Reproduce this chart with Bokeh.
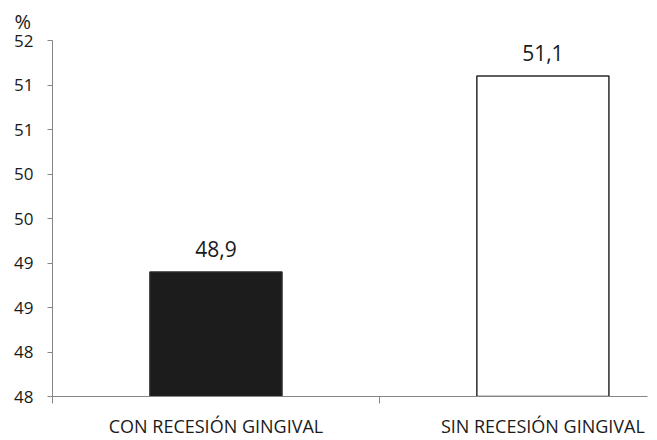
from bokeh.plotting import figure
from bokeh.models import ColumnDataSource, Range1d, FixedTicker, LabelSet
from bokeh.core.properties import value
from bokeh.embed import file_html
from bokeh.resources import INLINE

categories = ["CON RECESIÓN GINGIVAL", "SIN RECESIÓN GINGIVAL"]
values = [48.9, 51.1]
value_labels = ["48,9", "51,1"]
fills = ["#1c1c1c", "#ffffff"]
y_ticks = [47.5, 48.0, 48.5, 49.0, 49.5, 50.0, 50.5, 51.0, 51.5]
y_tick_labels = ["48", "48", "49", "49", "50", "50", "51", "51", "52"]
y_unit = "%"

FONT = "Open Sans"
TXT = "#1a1a1a"
AX = "#868686"

xs = list(range(len(categories)))
src = ColumnDataSource(dict(x=xs, top=values, lab=value_labels, fill=fills))

p = figure(width=657, height=440, output_backend="svg", toolbar_location=None,
           x_range=Range1d(-0.5, 1.32), y_range=Range1d(y_ticks[0], y_ticks[-1]),
           min_border_left=52, min_border_right=10, min_border_top=40, min_border_bottom=44)
p.outline_line_color = None
p.background_fill_color = "white"
p.border_fill_color = "white"
p.xgrid.visible = False
p.ygrid.visible = False

p.title.text = y_unit
p.title.align = "left"
p.title.offset = -38
p.title.standoff = 11
p.title.text_font = FONT
p.title.text_font_size = "20px"
p.title.text_font_style = "normal"
p.title.text_color = TXT

p.vbar(x="x", top="top", bottom=y_ticks[0], width=0.404, source=src,
       fill_color="fill", line_color="#2a2a2a", line_width=1.5)

p.add_layout(LabelSet(x="x", y="top", text="lab", source=src, text_align="center",
                      text_baseline="alphabetic", y_offset=15, text_font=value(FONT),
                      text_font_size=value("21px"), text_color=TXT))

# y axis
ya = p.yaxis[0]
ya.ticker = FixedTicker(ticks=y_ticks)
ya.major_label_overrides = {t: l for t, l in zip(y_ticks, y_tick_labels)}
ya.axis_line_color = AX
ya.major_tick_line_color = AX
ya.major_tick_in = 0
ya.major_tick_out = 5
ya.minor_tick_line_color = None
ya.major_label_text_font = FONT
ya.major_label_text_font_size = "17px"
ya.major_label_text_color = TXT
ya.major_label_standoff = 14

# x axis
xa = p.xaxis[0]
xa.ticker = FixedTicker(ticks=xs, minor_ticks=[x - 0.5 for x in xs] + [xs[-1] + 0.5])
xa.major_label_overrides = {x: c for x, c in zip(xs, categories)}
xa.axis_line_color = AX
xa.major_tick_line_color = None
xa.minor_tick_line_color = AX
xa.minor_tick_in = 0
xa.minor_tick_out = 7
xa.major_label_text_font = FONT
xa.major_label_text_font_size = "18px"
xa.major_label_text_color = TXT
xa.major_label_standoff = 10

open("out.html", "w").write(file_html(p, INLINE))
